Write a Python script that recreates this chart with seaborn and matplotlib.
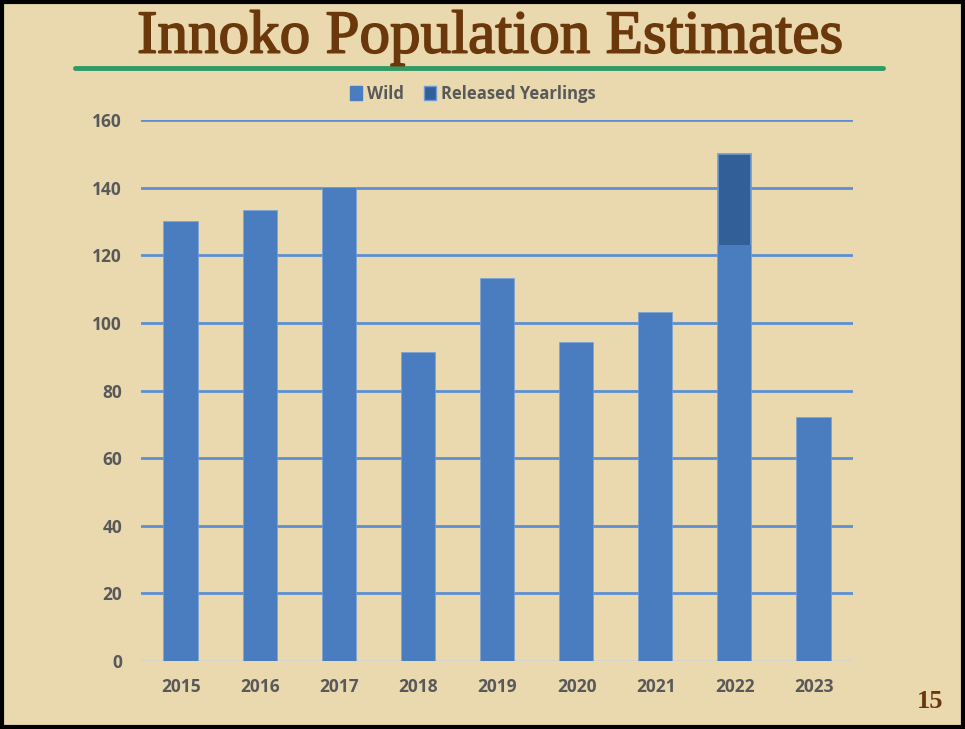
import matplotlib
matplotlib.use("Agg")
import matplotlib.pyplot as plt
import matplotlib.patheffects as pe
import seaborn as sns
import pandas as pd
from matplotlib.patches import Patch
from matplotlib.lines import Line2D

years = ["2015", "2016", "2017", "2018", "2019", "2020", "2021", "2022", "2023"]
wild = [130, 133, 140, 91, 113, 94, 103, 123, 72]
released = [0, 0, 0, 0, 0, 0, 0, 27, 0]
yticks = [0, 20, 40, 60, 80, 100, 120, 140, 160]

df = pd.DataFrame({"year": years, "wild": wild, "released": released})
df["total"] = df["wild"] + df["released"]

sns.set_theme(style="white")
bg = "#EAD8AF"
wild_c = "#4A7DC0"
rel_c = "#335F99"
grid_c = "#5D8FD2"
txt_c = "#595959"
brown = "#6B380C"

fig = plt.figure(figsize=(9.65, 7.29), dpi=100, facecolor=bg)
ax = fig.add_axes([0.1466, 0.0933, 0.7378, 0.7418])
ax.set_facecolor("none")

for y in yticks[1:]:
    ax.axhline(y, color=grid_c, lw=2, zorder=0)
ax.axhline(0, color="#D8D4CC", lw=1.5, zorder=0)

sns.barplot(data=df, x="year", y="total", color=rel_c, width=0.42, saturation=1,
            edgecolor="#6E9AD6", linewidth=1.2, ax=ax, zorder=2)
sns.barplot(data=df, x="year", y="wild", color=wild_c, width=0.42, saturation=1,
            linewidth=0, ax=ax, zorder=3)

ax.set_ylim(0, 160)
ax.set_xlim(-0.5, len(years) - 0.5)
ax.set_yticks(yticks)
ax.set_xlabel("")
ax.set_ylabel("")
for s in ax.spines.values():
    s.set_visible(False)
ax.tick_params(axis="both", length=0, labelsize=12.5, labelcolor=txt_c)
ax.tick_params(axis="y", pad=14)
ax.tick_params(axis="x", pad=12)
for lab in ax.get_xticklabels() + ax.get_yticklabels():
    lab.set_fontweight("bold")
    lab.set_family(["Open Sans", "DejaVu Sans"])

handles = [Patch(facecolor=wild_c, edgecolor=wild_c, label="Wild"),
           Patch(facecolor=rel_c, edgecolor="#6E9AD6", label="Released Yearlings")]
leg = fig.legend(handles=handles, loc="center", bbox_to_anchor=(0.49, 0.871), ncol=2,
                 frameon=False, handlelength=0.7, handleheight=0.9, handletextpad=0.3,
                 columnspacing=1.2,
                 prop={"family": "Open Sans", "weight": "bold", "size": 12})
for t in leg.get_texts():
    t.set_color(txt_c)

fig.text(0.508, 0.948, "Innoko Population Estimates", ha="center", va="center",
         fontsize=44, color=brown, family="Liberation Serif",
         path_effects=[pe.withStroke(linewidth=1.2, foreground=brown)])
fig.add_artist(Line2D([0.078, 0.915], [0.907, 0.907], color="#2F9A63", lw=3.5,
                      transform=fig.transFigure))
fig.text(0.978, 0.038, "15", ha="right", va="center", fontsize=19, color=brown,
         family="Liberation Serif", fontweight="bold")

fig.add_artist(plt.Rectangle((0.002, 0.003), 0.996, 0.994, transform=fig.transFigure,
                             fill=False, edgecolor="black", lw=3))

fig.savefig("out.png", dpi=100, facecolor=bg)
